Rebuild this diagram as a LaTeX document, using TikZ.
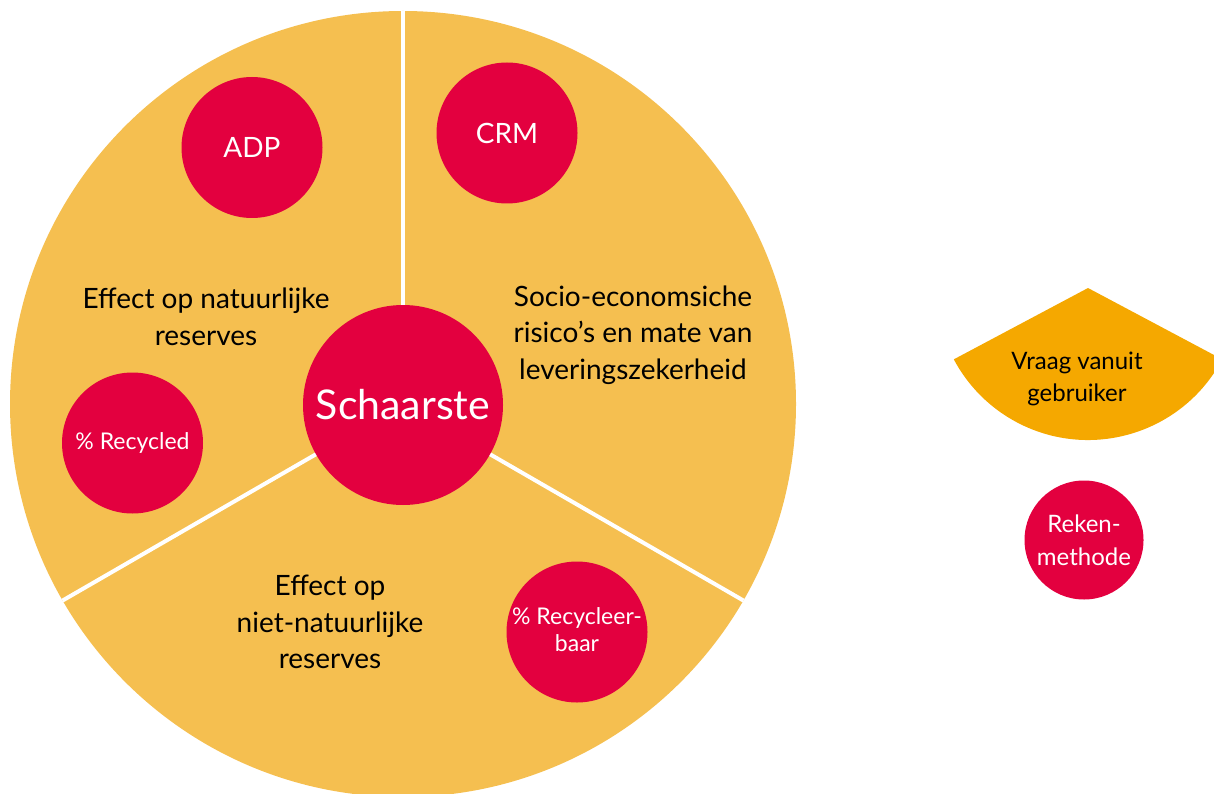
\documentclass[tikz,border=0pt]{standalone}
\usepackage{fontspec}
\setmainfont{Lato}
\definecolor{discorange}{HTML}{F5BF50}
\definecolor{dotred}{HTML}{E3003F}
\definecolor{fanorange}{HTML}{F5A800}

\begin{document}
\begin{tikzpicture}[x=1pt, y=-1pt,
  theme/.style={align=center, text=black, inner sep=0pt,
    font=\fontsize{28}{36.5}\selectfont},
  dot/.style={circle, fill=dotred, text=white, align=center, inner sep=0pt,
    minimum size=141pt, font=\fontsize{23}{28}\selectfont},
  capsdot/.style={dot, font=\fontsize{28}{30}\selectfont},
  divider/.style={draw=white, line width=4pt}]

\useasboundingbox (0,0) rectangle (1214,794);
\clip (0,0) rectangle (1214,794);

% main disc with its three sectors
\node (disc) [circle, fill=discorange, inner sep=0pt, minimum size=786pt] at (403,404) {};
\draw[divider] (disc.center) -- (disc.90);
\draw[divider] (disc.center) -- (disc.210);
\draw[divider] (disc.center) -- (disc.330);

% centre
\node (core) [circle, fill=dotred, text=white, inner sep=0pt, minimum size=200pt,
  font=\fontsize{41}{44}\selectfont] at (403,405) {Schaarste};

% sector titles
\node (natural) [theme] at (206,317) {Effect op natuurlijke\\reserves};
\node (socio) [theme] at (633,335) {Socio-economsiche\\risico’s en mate van\\leveringszekerheid};
\node (nonnatural) [theme] at (330,622) {Effect op\\niet-natuurlijke\\reserves};

% methods
\node (adp) [capsdot] at (252,147.5) {ADP};
\node (crm) [capsdot] at (507,133) {CRM};
\node (recycled) [dot] at (132.5,443) {\% Recycled};
\node (recyclable) [dot] at (577,632) {\raisebox{-9pt}{\begin{tabular}{@{}c@{}}\% Recycleer-\\[-1pt]baar\end{tabular}}};

% legend
\fill[fanorange] (1088,288) coordinate (apex) -- ++(28:152) arc[start angle=28, end angle=152, radius=152] -- cycle;
\node (demand) [align=center, text=black, inner sep=0pt, font=\fontsize{24}{32}\selectfont]
  at (1077,379) {Vraag vanuit\\gebruiker};
\node (method) [dot, minimum size=119pt, font=\fontsize{24}{33}\selectfont] at (1084,540) {Reken-\\methode};
\end{tikzpicture}
\end{document}
